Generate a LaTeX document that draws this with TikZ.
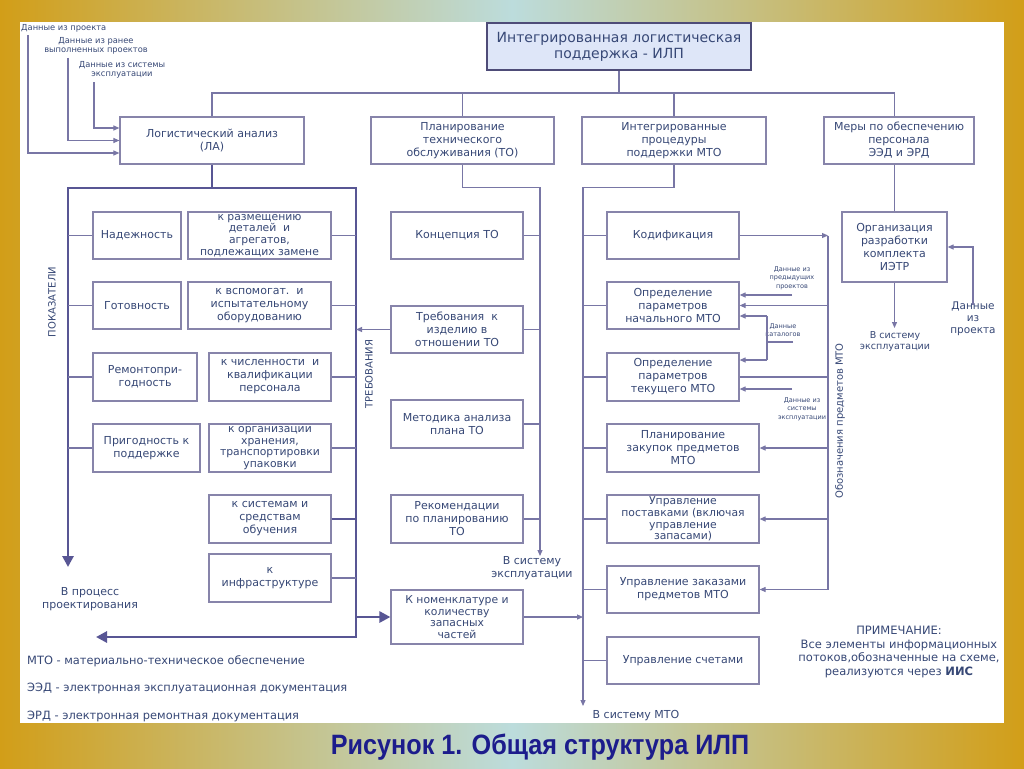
\documentclass[tikz,border=0pt]{standalone}
\usepackage{fontspec}
\setmainfont{DejaVu Sans}
\newfontfamily\titlefont{Liberation Sans}
\usetikzlibrary{arrows.meta}
\definecolor{goldc}{RGB}{210,158,24}
\definecolor{tealc}{RGB}{188,220,220}
\definecolor{txtc}{RGB}{55,72,118}
\definecolor{boxc}{RGB}{135,132,170}
\definecolor{linec}{RGB}{120,118,165}
\definecolor{thkc}{RGB}{88,86,148}
\definecolor{ilpfill}{RGB}{222,230,248}
\definecolor{ilpborder}{RGB}{78,76,120}
\definecolor{titlec}{RGB}{28,28,140}
\newcommand\mkbox[7][]{%
  \pgfmathsetmacro\mbw{#5-#3}%
  \pgfmathsetmacro\mbh{#6-#4}%
  \pgfmathsetmacro\mbx{(#3+#5)/2}%
  \pgfmathsetmacro\mby{(#4+#6)/2}%
  \node[bx,minimum width=\mbw pt,minimum height=\mbh pt,#1] (#2) at (\mbx,\mby) {#7};%
}
\begin{document}
\begin{tikzpicture}[x=1pt,y=-1pt,
  bx/.style={draw=boxc,line width=1.2pt,fill=white,text=txtc,align=center,inner sep=0pt,font=\fontsize{11}{13}\selectfont},
  tight/.style={font=\fontsize{10.8}{11.6}\selectfont},
  ln/.style={draw=linec,line width=1.1pt},
  arr/.style={ln,-{Triangle[length=6pt,width=5pt]}},
  thk/.style={draw=thkc,line width=2.8pt},
  thkarr/.style={thk,-{Triangle[length=11pt,width=11pt]}},
  lbl/.style={text=txtc,align=center,inner sep=0pt,font=\fontsize{11}{13}\selectfont},
  smla/.style={text=txtc,align=center,inner sep=0pt,font=\fontsize{8.3}{9.5}\selectfont},
  sml/.style={text=txtc,align=center,inner sep=0pt,font=\fontsize{6.5}{8.6}\selectfont},
]
\useasboundingbox (0,0) rectangle (1024,768);
\shade[left color=goldc,right color=goldc,middle color=tealc] (0,0) rectangle (1024,768);
\fill[white] (20,22) rectangle (1004,723);

% top box
\mkbox[fill=ilpfill,draw=ilpborder,line width=2.2pt,font=\fontsize{14}{16}\selectfont]{ilp}{487}{23}{751}{70}{Интегрированная логистическая\\поддержка - ИЛП}

% row 1
\mkbox{la}{120}{117}{304}{164}{Логистический анализ\\(ЛА)}
\mkbox{to}{371}{117}{554}{164}{Планирование\\технического\\обслуживания (ТО)}
\mkbox{mto}{582}{117}{766}{164}{Интегрированные\\процедуры\\поддержки МТО}
\mkbox{mery}{824}{117}{974}{164}{Меры по обеспечению\\персонала\\ЭЭД и ЭРД}

% left column
\mkbox{nad}{93}{212}{181}{259}{Надежность}
\mkbox{gotov}{93}{282}{181}{329}{Готовность}
\mkbox{remont}{93}{353}{197}{401}{Ремонтопри-\\годность}
\mkbox{prig}{93}{424}{200}{472}{Пригодность к\\поддержке}
\mkbox[tight]{raz}{188}{212}{331}{259}{к размещению\\деталей~~и\\агрегатов,\\подлежащих замене}
\mkbox{vsp}{188}{282}{331}{329}{к вспомогат.~~и\\испытательному\\оборудованию}
\mkbox{chisl}{209}{353}{331}{401}{к численности~~и\\квалификации\\персонала}
\mkbox[tight]{hran}{209}{424}{331}{472}{к организации\\хранения,\\транспортировки\\упаковки}
\mkbox{obuch}{209}{495}{331}{543}{к системам и\\средствам\\обучения}
\mkbox{infra}{209}{554}{331}{602}{к\\инфраструктуре}

% middle column
\mkbox{konc}{391}{212}{523}{259}{Концепция ТО}
\mkbox{treb}{391}{306}{523}{353}{Требования~~к\\изделию в\\отношении ТО}
\mkbox{metod}{391}{400}{523}{448}{Методика анализа\\плана ТО}
\mkbox{rekom}{391}{495}{523}{543}{Рекомендации\\по планированию\\ТО}
\mkbox[tight]{nomen}{391}{590}{523}{644}{К номенклатуре и\\количеству\\запасных\\частей}

% MTO column
\mkbox{kod}{607}{212}{739}{259}{Кодификация}
\mkbox{nach}{607}{282}{739}{329}{Определение\\параметров\\начального МТО}
\mkbox{tek}{607}{353}{739}{401}{Определение\\параметров\\текущего МТО}
\mkbox{plan}{607}{424}{759}{472}{Планирование\\закупок предметов\\МТО}
\mkbox[tight]{post}{607}{495}{759}{543}{Управление\\поставками (включая\\управление\\запасами)}
\mkbox{zak}{607}{566}{759}{613}{Управление заказами\\предметов МТО}
\mkbox{schet}{607}{637}{759}{684}{Управление счетами}

% right column
\mkbox{org}{842}{212}{947}{282}{Организация\\разработки\\комплекта\\ИЭТР}

% top bus
\coordinate (bus) at (0,93);
\draw[ln] (ilp.south) -- (ilp.south |- bus);
\draw[ln] (la.north) |- (bus -| org.north) -- (mery.north -| org.north);
\draw[ln] (to.north) -- (to.north |- bus);
\draw[ln] (mto.north) -- (mto.north |- bus);

% LA inputs
\node[smla,anchor=west] (d1) at (21,28) {Данные из проекта};
\node[smla] (d2) at (96,46) {Данные из ранее\\выполненных проектов};
\node[smla] (d3) at (122,70) {Данные из системы\\эксплуатации};
\coordinate (d1p) at (28,35);
\coordinate (d2p) at (68,58);
\coordinate (d3p) at (94,82);
\draw[arr] (d1p) |- ([yshift=-12.5pt]la.west);
\draw[arr] (d2p) |- (la.west);
\draw[arr] (d3p) |- ([yshift=12.5pt]la.west);

% frame
\coordinate (ftl) at (68,188);
\coordinate (ftr) at (356,188);
\coordinate (fbr) at (356,637);
\coordinate (fle) at (68,567);
\coordinate (fbe) at (96,637);
\draw[thk] (la.south) -- (la.south |- ftl);
\draw[thk,{Triangle[length=11pt,width=11pt]}-{Triangle[length=11pt,width=11pt]}] (fle) -- (ftl) -- (ftr) -- (fbr) -- (fbe);
\foreach \n in {nad,gotov,remont,prig} \draw[ln] (\n.west) -- (\n.west -| ftl);
\foreach \n in {raz,vsp,chisl,hran,infra} \draw[ln] (\n.east) -- (\n.east -| ftr);
\draw[thk] (obuch.east) -- (obuch.east -| ftr);
\draw[thkarr] (nomen.west -| ftr) -- (nomen.west);
\draw[arr] (treb.west) -- (treb.west -| ftr);

\node[lbl,rotate=90,font=\fontsize{10}{12}\selectfont] (pok) at (52,302) {ПОКАЗАТЕЛИ};
\node[lbl,rotate=90,font=\fontsize{10}{12}\selectfont] (trebl) at (369,374) {ТРЕБОВАНИЯ};
\node[lbl] (vproc) at (90,599) {В процесс\\проектирования};

% TO trunk
\coordinate (tot) at (540,556);
\draw[arr] (to.south) -- ++(0,23) -| (tot);
\foreach \n in {konc,treb,metod,rekom} \draw[ln] (\n.east) -- (\n.east -| tot);
\node[lbl] (vse1) at (532,568) {В систему\\эксплуатации};

% MTO trunk
\coordinate (mtt) at (583,706);
\draw[arr] (mto.south) -- ++(0,23) -| (mtt);
\foreach \n in {kod,nach,tek,plan,post,zak,schet} \draw[ln] (\n.west) -- (\n.west -| mtt);
\draw[arr] (nomen.east) -- (nomen.east -| mtt);
\node[lbl] (vsm) at (636,716) {В систему МТО};

% right vertical
\coordinate (rv) at (828,0);
\draw[arr] (kod.east) -- (kod.east -| rv);
\draw[ln] (kod.east -| rv) -- (zak.east -| rv);
\draw[arr] (nach.east -| rv) -- (nach.east);
\draw[ln] (tek.east) -- (tek.east -| rv);
\draw[arr] (plan.east -| rv) -- (plan.east);
\draw[arr] (post.east -| rv) -- (post.east);
\draw[arr] (zak.east -| rv) -- (zak.east);
\node[lbl,rotate=90,font=\fontsize{10}{12}\selectfont] (obozn) at (840,421) {Обозначения предметов МТО};

% data labels MTO
\node[sml] (dpp) at (792,278) {Данные из\\предыдущих\\проектов};
\coordinate (dppa) at (792,295);
\draw[arr] (dppa) -- (nach.east |- dppa);
\node[sml] (dkat) at (783,330) {Данные\\каталогов};
\coordinate (kr) at (793,342);
\coordinate (kb) at (767,342);
\coordinate (y316) at (0,316);
\coordinate (y360) at (0,360);
\draw[ln] (kr) -- (kb);
\draw[arr] (kb |- y316) -- (nach.east |- y316);
\draw[ln] (kb |- y316) -- (kb |- y360);
\draw[arr] (kb |- y360) -- (tek.east |- y360);
\node[sml] (dse) at (802,409) {Данные из\\системы\\эксплуатации};
\coordinate (dsp) at (792,389);
\draw[arr] (dsp) -- (tek.east |- dsp);

% right column connectors
\draw[ln] (org.north |- mery.south) -- (org.north);
\coordinate (ose) at (894.5,328);
\draw[arr] (org.south) -- (ose);
\node[lbl,font=\fontsize{9.5}{11}\selectfont] (vse2) at (895,342) {В систему\\эксплуатации};
\node[lbl,font=\fontsize{10.5}{12}\selectfont] (dpr) at (973,319) {Данные\\из\\проекта};
\coordinate (dprt) at (973,305);
\draw[arr] (dprt) |- (org.east);

% legend
\node[lbl,anchor=west,font=\fontsize{11.4}{13}\selectfont] (l1) at (27,661) {МТО - материально-техническое обеспечение};
\node[lbl,anchor=west,font=\fontsize{11.4}{13}\selectfont] (l2) at (27,688) {ЭЭД - электронная эксплуатационная документация};
\node[lbl,anchor=west,font=\fontsize{11.4}{13}\selectfont] (l3) at (27,716) {ЭРД - электронная ремонтная документация};

% note
\node[lbl,font=\fontsize{11.5}{13.8}\selectfont] (note) at (899,652) {ПРИМЕЧАНИЕ:\\Все элементы информационных\\потоков,обозначенные на схеме,\\реализуются через \textbf{ИИС}};

% title
\node[font=\titlefont\bfseries\fontsize{28}{32}\selectfont,text=titlec,inner sep=0pt] (title) at (540,747) {\scalebox{0.9}[1]{Рисунок 1. Общая структура ИЛП}};
\end{tikzpicture}
\end{document}
